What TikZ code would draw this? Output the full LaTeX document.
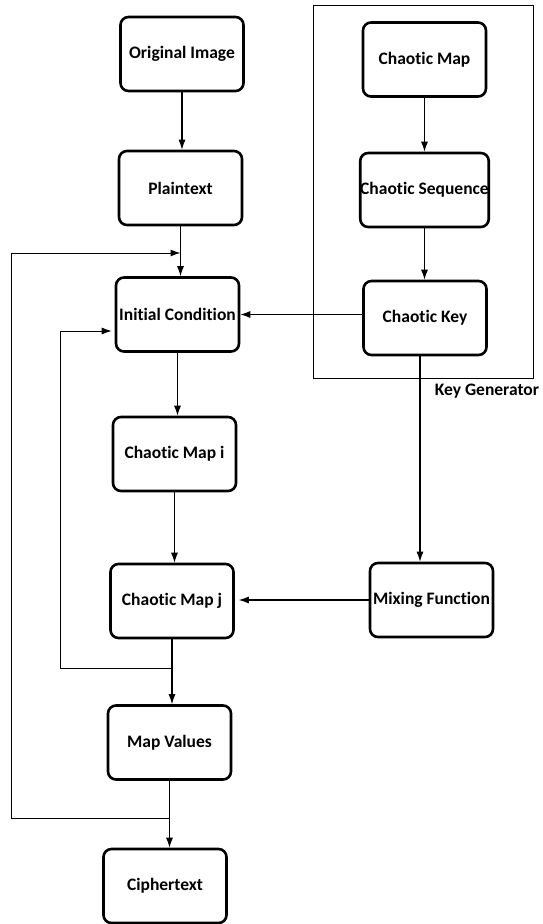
\documentclass[tikz,border=0pt]{standalone}
\usepackage{fontspec}
\setmainfont{Carlito}[Ligatures=NoCommon]
\usetikzlibrary{arrows.meta}

\tikzset{
  blk/.style={draw, line width=2.6pt, rounded corners=8pt, minimum width=123pt,
    minimum height=74pt, inner sep=0pt, font=\bfseries\fontsize{17.5}{20}\selectfont},
  arr/.style={-{Latex[length=10pt,width=7pt]}, line width=1.1pt},
  lbl/.style={font=\bfseries\fontsize{17.5}{20}\selectfont}
}

\begin{document}
\begin{tikzpicture}[x=1pt, y=-1pt]
    \useasboundingbox (0,0) rectangle (543,924);

    % ノードの定義
    \node[blk] (orig)  at (182, 54)    {Original Image};
    \node[blk] (plain) at (180.5, 188) {Plaintext};
    \node[blk] (init)  at (177.5, 314.5) {Initial Condition};
    \node[blk] (mapi)  at (174.5, 454) {Chaotic Map i};
    \node[blk] (mapj)  at (172, 601)   {Chaotic Map j};
    \node[blk] (vals)  at (169.5, 742.5) {Map Values};
    \node[blk] (ciph)  at (165, 886)   {Ciphertext};

    \node[blk] (cmap)  at (424.5, 59.5) {Chaotic Map};
    \node[blk] (cseq)  at (424.5, 190)  {Chaotic Sequence};
    \node[blk] (ckey)  at (425, 318)    {Chaotic Key};
    \node[blk] (mix)   at (431.5, 600)  {Mixing Function};

    % 鍵生成部の枠
    \node[draw, line width=0.9pt, minimum width=220pt, minimum height=373pt, inner sep=0pt] (keygen) at (423, 191.5) {};
    \node[lbl] (kglabel) at (487, 391) {Key Generator};

    % 補助座標
    \coordinate (innerbot) at (60, 668);
    \coordinate (innertop) at (60, 331);
    \coordinate (outerbot) at (11, 818);
    \coordinate (outertop) at (11, 253);

    % 有向エッジを引く
    \draw[arr] (orig.south) -- (orig.south |- plain.north);
    \draw[arr] (plain.south) -- (plain.south |- init.north);
    \draw[arr] (init.south) -- (init.south |- mapi.north);
    \draw[arr] (mapi.south) -- (mapi.south |- mapj.north);
    \draw[arr] (mapj.south) -- (mapj.south |- vals.north);
    \draw[arr] (vals.south) -- (vals.south |- ciph.north);

    \draw[arr] (cmap.south) -- (cmap.south |- cseq.north);
    \draw[arr] (cseq.south) -- (cseq.south |- ckey.north);
    \draw[arr] (ckey.west |- init) -- (init.east);
    \draw[arr] ([xshift=-5pt]ckey.south) -- ([xshift=-5pt]ckey.south |- mix.north);
    \draw[arr, shorten >=4pt] (mix.west) -- (mix.west -| mapj.east);

    % フィードバック
    \draw[arr, line width=1pt, shorten >=3pt] (mapj.south |- innerbot) -- (innerbot) -- (innertop) -- (init.west |- innertop);
    \draw[arr, line width=1pt] (vals.south |- outerbot) -- (outerbot) -- (outertop) -- (plain.south |- outertop);

\end{tikzpicture}
\end{document}
